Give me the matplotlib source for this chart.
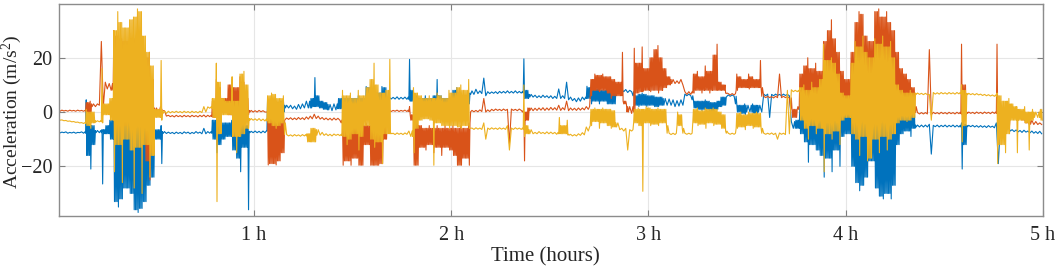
import numpy as np
import matplotlib
matplotlib.use("Agg")
import matplotlib.pyplot as plt

# ---- data: per-bin envelope (max / min) of each accelerometer axis, bins of 0.02 h ----
BIN_HOURS = 0.02
N_BINS = 250

blue_hi = [-7.3, -7.4, -7.3, -7.5, -7.4, -7.5, -7.3, 4.5, -2, -5,
           -6.8, -6.5, -5, -3, 5, 4, 6, 5, 4, 6,
           5, 4, 5, 3, 0, -6.5, -5, -7.2, -7.4, -7.5,
           -7.4, -7.5, -7.3, -7.4, -7.5, -7.2, -7.4, -6, -7.2, -3,
           -3, -3.5, -4, -4, -3, -3.5, -3, -4, -5, -7.1,
           -7.0, -7.1, -7.0, 5, 4, 3.5, 4, 4.5, 2.5, 2.5,
           2.2, 2.8, 3, 4, 5, 12.7, 6, 4, 3.5, 2.8,
           3, 5, 6, 5, 6, 5, 6, 5, 9.4, 9,
           8, 7, 9.4, 9, 5.5, 5.4, 5.6, 5.4, 5.5, 19.4,
           8, 6, 5, 6, 5, 6, 12, 6, 5, 5,
           8, 9, 7, 6, 7, 7.8, 8.4, 7.8, 12.5, 7.5,
           7.4, 7.5, 7.6, 7.6, 7.8, 7.6, 7.8, 7.6, 19.6, 8,
           6.5, 6.2, 6.0, 6.2, 6.0, 6.0, 5.8, 8.5, 6, 11,
           5.5, 5.0, 5.2, 5.5, 9.5, 9, 8.5, 9, 8, 9,
           8, 8, 8.5, 8.3, 8.3, 8.0, 6, 6.5, 7, 6.5,
           6, 6, 5.5, 5.5, 5, 4.8, 4.5, 4.2, 4.5, 6.6,
           6.6, 4.5, 4, 4, 4.5, 4, 3.5, 4, 5.5, 5.5,
           6.3, 6.3, 3, 2.5, 3, 2.5, 3, 2.5, 2.5, 6.6,
           6.6, 6.5, 6.6, 6.5, 6.6, 6.5, -3.5, -3, 3, 3,
           3, 3, 3, 3, 3, 3, 3, 3, 3, 2,
           2, 3, 3, 3, 3, 3, 3, 3, 3, 3,
           3, 3, 3, 2, 2, 2, 2, 2, -4.8, -4.8,
           -4.8, -4.5, -4.9, -4.8, -4.9, -4.8, -4.9, -4.8, -4.9, -4,
           -4.5, -4.9, -4.9, -5.0, -5.0, -5.1, -5.0, -5.2, -4, -5,
           -5, -5, -6.5, -6.6, -6.8, -6.7, -7.0, -7.0, -7.2, -7.1]
blue_lo = [-7.7, -7.6, -7.8, -7.7, -7.8, -7.6, -7.8, -16, -21, -12,
           -7.6, -26.5, -8, -10, -33, -35, -32, -28, -30, -36,
           -37, -35.5, -33, -27, -24, -10, -19, -7.9, -7.9, -8.0,
           -7.9, -8.0, -7.8, -8.0, -7.9, -7.8, -8.0, -8, -7.8, -10,
           -15, -12, -10, -9, -14, -17, -22, -13, -36, -7.6,
           -7.6, -7.7, -7.6, -7, -3, -6, -6, 0, 1.5, 1.2,
           1.0, 1.2, 1.5, 1.5, 1.5, 2, 1.5, 1, 0.8, 0.5,
           0.8, 1.2, -4, -5, -3, -5, -4, -5, -2, -3,
           -4, -3, -2, 0, 4.8, 4.8, 4.7, 4.8, 4.7, 4,
           -2, -1, 0, 1, 1, 0, 0, 1, 0, -1,
           -1, 0, -1, 0, 3, 6.5, 6.8, 6.8, 6, 6.8,
           6.9, 6.8, 7.0, 7.0, 7.0, 7.0, 7.0, 7.0, 5, 5,
           5.5, 5.3, 5.3, 5.4, 5.2, 5.0, 5.0, 5.0, 5, 4.5,
           4.2, 3.8, 4.0, 4.5, 5, 3, 4, 3, 4, 3,
           3, 3, 7, 7.5, 7.2, 7.5, 2.5, 2, 2.5, 2,
           2.5, 2, 2, 2.5, 2.5, 2.5, 2, 2.2, 2.5, 6.0,
           6.0, 1.5, 1, 0.5, 1, 0.5, 0.5, 1, 2, 2.5,
           5.8, 5.8, 0, -0.5, -1, 0, -0.5, -1.5, 0, 6.0,
           -2, 6.0, 6.1, 6.0, 6.1, 6.0, -6, -6, -8, -11,
           -18.5, -12, -14, -16, -24, -17, -22, -14, -20, -9,
           -8, -20, -26, -29, -27, -24, -18, -28, -31, -32,
           -30, -32, -27, -12, -8, -7, -9, -6, -5.5, -5.5,
           -5.5, -15.5, -5.4, -5.5, -5.4, -5.5, -5.4, -5.5, -5.5, -21,
           -12, -5.4, -5.5, -5.6, -5.6, -5.7, -5.6, -5.8, -19, -7,
           -7, -7, -7.2, -7.3, -7.5, -7.4, -7.7, -7.8, -7.9, -8.0]

orange_hi = [0.6, 0.7, 0.6, 0.7, 0.6, 0.7, 0.6, 3.5, 4, 3,
             3, 26, 11, 10.5, 30, 28, 27, 26, 29, 27,
             30, 25, 20, 22, 12, 1.5, 2, 0.5, -1.2, -1.3,
             -1.2, -1.3, -1.2, -1.3, -1.2, -1.3, -1.2, -1.1, -1.2, 4,
             12, 9, 5, 10, 12, 9, 13, 11, 5, 0.6,
             0.5, 0.6, 0.5, 0, -2, -3, -2, -3, -2.2, -2.1,
             -2.2, -2.0, -2.1, -1.8, -1.5, -0.8, -1.5, -2, -2.2, -2.3,
             -2.2, -2.3, -4, -5, -6, -5, -6, -5, -4, -5,
             -6, -4, -5, -2, 0.7, 0.6, 0.7, 0.6, 0.7, 2,
             -3, -4, -5, -6, -5, -6, -5, -6, -5, -6,
             -5, -6, -5, -6, -4, 0.6, 0.6, 0.8, 5, 0.8,
             1.0, 1.1, 1.0, 1.1, 1.0, 1.1, 1.0, 1.1, 0, 1.5,
             1.5, 1.4, 1.5, 1.6, 1.5, 1.7, 1.6, 2.5, 1.6, 4,
             1.5, 1.4, 1.5, 1.5, 2, 12, 14, 13.5, 14, 13,
             13, 12, 11, 22, 3, 2, 23.5, 18, 24, 16,
             20, 23, 24.5, 20, 16, 13, 12, 11.5, 12, 7.5,
             7.5, 14, 15, 13, 17, 15, 21, 25, 11, 10,
             6.8, 6.8, 14, 13, 12, 14, 13, 12, 19, 5.8,
             5.8, 5.7, 5.8, 14, 5.8, 5.7, 1, 1, 14, 17,
             20, 16, 18, 15, 26, 30, 34, 27, 22, 15,
             12, 22, 33, 37, 36, 28, 26, 37, 38, 35,
             37, 33, 30, 22, 16, 14, 12, 9, -0.2, -0.2,
             -0.2, 23, -0.1, -0.2, -0.1, -0.2, -0.1, -0.2, -0.1, 25,
             10, 0.0, -0.1, 0.0, -0.1, 0.0, -0.1, 0.0, 25, -1,
             -1, -1, 0, 0, -0.5, -1, -1, -3, -3.5, -4]
orange_lo = [0.3, 0.4, 0.3, 0.4, 0.3, 0.4, 0.3, -1, -3, 2,
             2.5, 2, 8.5, 8, -5, -4, -6, -5, -4, -6,
             -5, -5, -18, -25, -15, -1, 0.5, -1.5, -1.7, -1.8,
             -1.7, -1.8, -1.7, -1.8, -1.7, -1.8, -1.7, -1.8, -1.7, -2,
             -2, -1, 0, -1, -2, -1, -3, -1, -1, 0.0,
             0.0, 0.1, 0.0, -19.5, -19, -19.5, -18, -15, -2.7, -2.8,
             -2.8, -2.7, -2.8, -2.6, -2.5, -2.4, -2.6, -2.8, -2.9, -3.0,
             -2.9, -3.0, -19.6, -18, -19.6, -17, -19.6, -19.6, -12, -19.6,
             -19.6, -19.6, -19, -10, 0.2, 0.3, 0.2, 0.3, 0.2, -1,
             -19.6, -19.6, -13, -14, -12, -15, -13, -16, -13, -14,
             -16, -19.6, -19.6, -17, -19.6, 0.1, 0.1, 0.2, 0, 0.2,
             0.5, 0.6, 0.5, 0.6, -11.6, 0.6, 0.5, 0.6, -18, -3,
             0.5, 0.6, 0.7, 0.6, 0.7, 0.8, 0.7, 0.6, 0.8, 0.5,
             0.7, 0.6, 0.7, 0.8, 1, 6, 8, 7.5, 8, 7,
             5, 6, 6, 4, 0, -0.5, 0, 7, 7.5, 8,
             7.5, 8, 7, 8, 9, 10, 10.5, 10.5, 10, 6.5,
             6.5, 7, 8, 7, 8, 7, 8, 8, 8, 7,
             6.3, 6.3, 8, 9, 9, 8.5, 9, 9, 9, 5.3,
             5.3, 5.2, 5.3, 5.3, 5.3, 5.2, -2, -2, 2, 3,
             4, 3, 3, 4, 3, 2, 2, 3, 3, 3,
             3, 2, 2, 2, 2, 2, 2, 2, 2, 2,
             2, 2, 2, 3, 3, 3, 3, 2, -0.7, -0.7,
             -0.7, -1, -0.6, -0.7, -0.6, -0.7, -0.6, -0.7, -0.6, -1,
             -1, -0.5, -0.6, -0.5, -0.6, -0.5, -0.6, -0.5, -1, -5,
             -5, -5, -2, -2, -3, -4, -4.5, -4.6, -4.6, -4.6]

yellow_hi = [-2.7, -2.9, -3.1, -3.3, -3.5, -3.7, -3.9, 1, 0, 0,
             -3.2, 16, 3, 5, 30, 37, 33, 31, 34, 35,
             38, 37, 28, 22, 17, 1, 19, 0.5, 0.3, 0.2,
             0.3, 0.2, 0.3, 0.2, 0.3, 0.2, 0.3, 2, 1.9, 5,
             18, 11, 5, 4, 13, 4, 14, 15, 10, -2.4,
             -2.5, -2.4, -2.6, 6, 7, 6.5, 5, 6, -8.3, -8.4,
             -8.3, -8.4, -8.3, -8, -6, -6, -6.5, -7.5, -8, -8.2,
             -8.1, -8.2, 8, 6, 7, 5, 8, 6, 9, 12,
             18, 10, 7, 8, 19.4, -7.8, -7.7, -7.8, -7.7, -7,
             9, 7, 6, 5, 6, 5, 7, 6, 5, 8,
             7, 9, 10, 8, 12, -5.9, -5.8, -5.9, -4, -5.9,
             -5.8, -5.9, -5.8, -5.9, -5, -5.9, -5.8, -5.9, 10, -5,
             -6.5, -7.5, -7.2, -7.5, -7.3, -7.4, -7.5, -2, -5, -3,
             -8.2, -8.3, -8.0, -7.6, -5.5, 1, 1.5, 1, 1.5, 1,
             1, 0.5, -4, -6, -6, -6.5, 1, 1.5, 1, 2,
             1.5, 1, 1.5, 1, 1, -7.8, -7.8, 0, -1, -7.8,
             -7.8, 1, 1.5, 0.5, 1.5, 1, 1.5, 1, 0, -1,
             -7.8, -7.8, -0.5, 0, -1, 0, -0.5, 0, -0.5, -7.8,
             -7.8, -7.7, -7.8, -7.7, -7.8, 8, 8.2, 8, 9, 10,
             8, 11, 9, 12, 25, 19, 20, 18, 14, 7,
             6, 18, 26, 24, 28, 22, 20, 27, 25, 28,
             24, 26, 20, 10, 8, 7, 8, 7, 7, 6.9,
             6.9, 6.5, 7.2, 7.1, 7.2, 7.1, 7.2, 7.1, 7.2, 10,
             8, 6.9, 6.8, 6.8, 6.6, 6.5, 6.4, 6.3, 7, 6,
             4, 5, 3, 2, 1, 2, 0, 1, 0, 1]
yellow_lo = [-3.0, -3.2, -3.4, -3.6, -3.8, -4.0, -4.2, -5, -6, -4,
             -3.6, -4, -1, -3, -22, -12, -26, -10, -14, -28,
             -13, -30, -12, -24, -16, -2, -3, -0.5, -0.3, -0.2,
             -0.2, -0.3, -0.2, -0.3, -0.2, -0.3, -0.2, 0, 1.4, -2,
             -33, -8, -1, -1, -9, -15, -9, -8, -6, -3.0,
             -3.1, -3.2, -3.3, -4, -5, -6, -5, -4, -8.8, -8.9,
             -8.8, -8.9, -8.8, -11, -11, -11, -8.5, -8.6, -8.7, -8.8,
             -8.6, -8.7, -9, -12, -10, -8, -14, -9, -5, -10,
             -13, -11, -19, -8, -8, -8.3, -8.2, -8.3, -8.2, -9,
             -15, -6, -3, -2.5, -3, -19.6, -4, -5, -5, -6,
             -5, -5.5, -6, -5, -6, -6.4, -6.3, -6.4, -10, -6.4,
             -6.3, -6.4, -6.3, -6.4, -14, -6.4, -6.3, -6.4, -9, -8,
             -8, -8, -7.9, -8, -8, -8, -8.2, -8, -8, -8.5,
             -8.8, -8.8, -8.6, -8.4, -7, -5, -3.5, -6, -4, -5,
             -6, -5.5, -6.5, -7, -14, -7, -4, -5, -29.2, -4,
             -5, -4.5, -5, -4, -5, -8.3, -8.3, -5, -6, -8.2,
             -8.2, -4, -5, -4.5, -6, -4, -5, -4.5, -6, -7,
             -8.2, -8.2, -6, -5.5, -6.5, -5, -6, -5.5, -6, -8.2,
             -8.2, -8.3, -10, -8.2, -8.3, -8, 7.5, 7.5, -3, -6,
             -10, -5, -8, -6, -22, -8, -10, -7, -12, -3,
             -2, -8, -10, -16, -9, -18, -17, -10, -15, -9,
             -14, -10, -8, -4, -3, -3.5, -3, -2, 6.5, 6.4,
             6.4, -3, 6.6, 6.6, 6.7, 6.6, 6.7, 6.6, 6.7, -11,
             -5, 6.4, 6.3, 6.3, 6.1, 6.0, 5.9, 5.8, -19, -12,
             -15, -8, -3, -15, -3, -4, -14, -3, -2, -3]

tick_hours = [1, 2, 3, 4, 5]
tick_labels = ["1 h", "2 h", "3 h", "4 h", "5 h"]
y_ticks = [-20, 0, 20]

colors = ["#0072BD", "#D95319", "#EDB120"]


def trace(hi, lo):
    """Min/max trace. Isolated bins swing once between their min and max; bins inside
    a burst get extra strokes bounded by the envelope shared with each neighbour, so
    only the bin's own extreme reaches full height (thin spikes over a dense core)."""
    hi = np.asarray(hi, float)
    lo = np.asarray(lo, float)
    rng = hi - lo
    n_b = len(hi)
    xs, ys = [], []
    for k in range(n_b):
        kp = max(k - 1, 0)
        kn = min(k + 1, n_b - 1)
        dense = rng[k] > 2.5 and (rng[kp] > 2.5 or rng[kn] > 2.5)
        if dense:
            swings = [(min(hi[k], hi[kp]), max(lo[k], lo[kp])),
                      (hi[k], lo[k]),
                      (min(hi[k], hi[kn]), max(lo[k], lo[kn]))]
        else:
            swings = [(hi[k], lo[k])]
        m = 2 * len(swings)
        pos = k * BIN_HOURS + (np.arange(m) + 0.5) * BIN_HOURS / m
        vals = [v for s in swings for v in s]
        xs.extend(pos)
        ys.extend(vals)
    return np.array(xs), np.array(ys)


plt.rcParams["font.family"] = ["Liberation Serif", "DejaVu Serif"]
plt.rcParams["mathtext.fontset"] = "custom"
plt.rcParams["mathtext.rm"] = "Liberation Serif"
plt.rcParams["mathtext.it"] = "Liberation Serif:italic"

fig = plt.figure(figsize=(10.56, 2.67), dpi=100)
ax = fig.add_axes([0.0562, 0.191, 0.9312, 0.794])

for hi, lo, c in [(blue_hi, blue_lo, colors[0]),
                  (orange_hi, orange_lo, colors[1]),
                  (yellow_hi, yellow_lo, colors[2])]:
    xs, ys = trace(hi, lo)
    ax.plot(xs, ys, color=c, lw=0.8)

ax.set_xlim(0.012, 5.0)
ax.set_ylim(-38.3, 39.8)
ax.set_xticks(tick_hours)
ax.set_xticklabels(tick_labels)
ax.set_yticks(y_ticks)
ax.grid(True, color="#e6e6e6", lw=0.8)
ax.set_axisbelow(True)
ax.tick_params(direction="in", length=4, width=0.8, color="#808080",
               top=True, right=True, labelsize=14.5, labelcolor="#262626")
ax.tick_params(axis="x", pad=7)
ax.tick_params(axis="y", pad=5)
for s in ax.spines.values():
    s.set_color("#8c8c8c")
    s.set_linewidth(1.0)
ax.set_xlabel("Time (hours)", fontsize=15, color="#262626")
ax.xaxis.set_label_coords(0.4944, -0.145)
ax.set_ylabel(r"Acceleration (m/s$^{2}$)", fontsize=14, color="#262626")
ax.yaxis.set_label_coords(-0.036, 0.49)

fig.savefig("out.png", dpi=100)
